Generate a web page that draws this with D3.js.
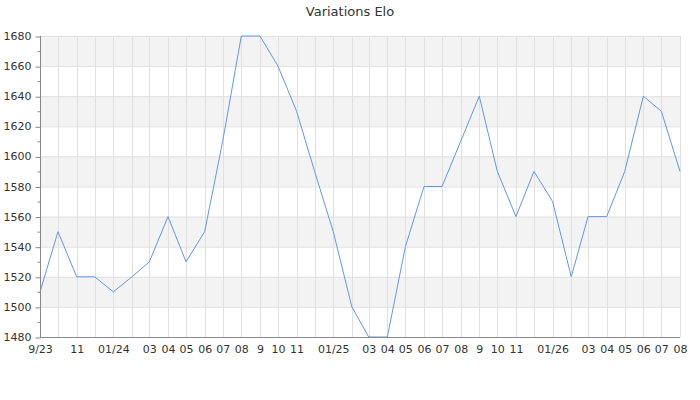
<!DOCTYPE html>
<html><head><meta charset="utf-8">
<script src="https://cdn.jsdelivr.net/npm/d3@7"></script>
<style>body{margin:0;background:#fff}svg{display:block;font-family:"DejaVu Sans",sans-serif}</style>
</head><body><svg id="c" width="700" height="400"></svg>
<script>
const months = ["2023-09","2023-10","2023-11","2023-12","2024-01","2024-02","2024-03","2024-04","2024-05","2024-06","2024-07","2024-08","2024-09","2024-10","2024-11","2024-12","2025-01","2025-02","2025-03","2025-04","2025-05","2025-06","2025-07","2025-08","2025-09","2025-10","2025-11","2025-12","2026-01","2026-02","2026-03","2026-04","2026-05","2026-06","2026-07","2026-08"];
const elo = [1510,1550,1520,1520,1510,1520,1530,1560,1530,1550,1610,1680,1680,1660,1630,1590,1550,1500,1480,1480,1540,1580,1580,1610,1640,1590,1560,1590,1570,1520,1560,1560,1590,1640,1630,1590];
const xLabels = ["9/23","","11","","01/24","","03","04","05","06","07","08","9","10","11","","01/25","","03","04","05","06","07","08","9","10","11","","01/26","","03","04","05","06","07","08"];
const yTicks = [1480,1500,1520,1540,1560,1580,1600,1620,1640,1660,1680];
const yMinor = [1490,1510,1530,1550,1570,1590,1610,1630,1650,1670];
const title = "Variations Elo";

const svg = d3.select("#c");
const L=40,R=680,T=36,B=337;
const parse = d3.timeParse("%Y-%m");
const dates = months.map(parse);
const x = d3.scaleTime().domain(d3.extent(dates)).range([L,R]);
const y = d3.scaleLinear().domain([1480,1680]).range([B,T]);

// bands
const bands = yTicks.slice(0,-1).filter((v,i)=>i%2===1);
svg.append("g").selectAll("rect").data(bands).join("rect")
  .attr("x",L).attr("width",R-L)
  .attr("y",d=>y(d+20)).attr("height",d=>y(d)-y(d+20))
  .attr("fill","#f3f3f3");

// grid
svg.append("g").selectAll("line").data(yTicks).join("line")
  .attr("x1",L).attr("x2",R).attr("y1",d=>y(d)+0.5).attr("y2",d=>y(d)+0.5)
  .attr("stroke","#e0e0e0");
svg.append("g").selectAll("line").data(dates).join("line")
  .attr("x1",d=>Math.round(x(d))+0.5).attr("x2",d=>Math.round(x(d))+0.5).attr("y1",T).attr("y2",B)
  .attr("stroke","#e0e0e0");

// line
svg.append("path").datum(dates.map((d,i)=>[d,elo[i]]))
  .attr("fill","none").attr("stroke","#6495ed").attr("stroke-width",1)
  .attr("d",d3.line().x(d=>x(d[0])).y(d=>y(d[1])));

// y axis
const ya = svg.append("g").attr("transform",`translate(${L+0.5},0)`)
  .call(d3.axisLeft(y).tickValues(yTicks).tickSize(5).tickPadding(4).tickFormat(d3.format("d")));
ya.append("g").selectAll("line").data(yMinor).join("line")
  .attr("x1",-3).attr("x2",0).attr("y1",d=>y(d)+0.5).attr("y2",d=>y(d)+0.5).attr("stroke","#888");
ya.select(".domain").attr("stroke","#888").attr("d",`M0,${T}V${B+0.5}`);
ya.selectAll(".tick line").attr("stroke","#888").attr("transform","translate(0,0.5)");
ya.selectAll(".tick text").attr("fill","#333").style("font-size","11px").style("font-family","DejaVu Sans");

// x axis
const xa = svg.append("g").attr("transform",`translate(0,${B+0.5})`)
  .call(d3.axisBottom(x).tickValues(dates).tickSize(0).tickPadding(8).tickFormat((d,i)=>xLabels[i]));
xa.select(".domain").attr("stroke","#888").attr("d",`M${L},0H${R}`);
xa.selectAll(".tick text").attr("fill","#333").style("font-size","11px").style("font-family","DejaVu Sans");

svg.append("text").attr("x",350).attr("y",16).attr("text-anchor","middle")
  .attr("fill","#333").style("font-size","13px").text(title);
</script></body></html>
